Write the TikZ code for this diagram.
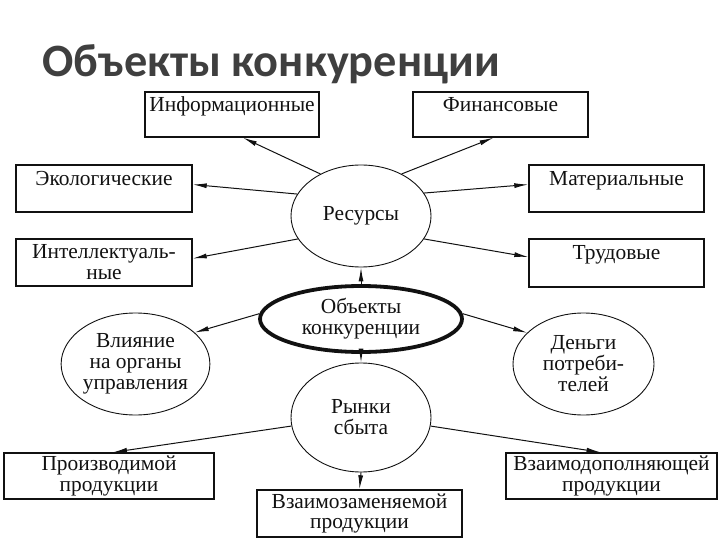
\documentclass[tikz,border=0pt]{standalone}
\usepackage{fontspec}
\setmainfont{Liberation Serif}
\newfontfamily\titlefont{Carlito}
\usetikzlibrary{arrows.meta,shapes.geometric}
\definecolor{ink}{HTML}{111111}
\definecolor{headGray}{HTML}{3F3F3F}
\newcommand{\labelsize}{\fontsize{21.5}{21}\selectfont}
\newcommand{\headsize}{\fontsize{46.5}{46.5}\selectfont}

\begin{document}
\begin{tikzpicture}[
    x=1bp, y=-1bp,
    >={Latex[length=14bp,width=5bp]},
    every node/.style={font=\labelsize, text=ink},
    kindbox/.style={
        rectangle, draw=ink, line width=1.4bp,
        align=center, inner sep=0pt,
        minimum width=175bp, minimum height=46bp,
    },
    topic/.style={
        ellipse, draw=ink, line width=0.9bp,
        align=center, inner sep=0pt,
        minimum width=140bp, minimum height=102bp,
    },
    core/.style={topic, line width=3.8bp, minimum width=202bp, minimum height=66bp},
    arr/.style={->, line width=1bp, draw=ink},
]

\useasboundingbox (0,0) rectangle (720,540);

% --- Heading ---
\node[font=\titlefont\bfseries\headsize, text=headGray, anchor=base west, inner sep=0pt]
  (head) at (42,77) {Объекты конкуренции};

% --- Centre and the four topics ---
\node[core] (obj) at (361,319) {Объекты\\конкуренции};
\node[topic] (res) at (361,216) {Ресурсы};
\node[topic, minimum width=137bp] (vli) at (135.5,364) {Влияние\\на органы\\управления};
\node[topic, minimum width=141bp] (den) at (583.5,364) {Деньги\\потреби-\\телей};
\node[topic, minimum height=109bp] (ryn) at (361,417.5) {Рынки\\сбыта};

% --- Kinds of resources ---
\node[kindbox, minimum width=174bp, minimum height=45bp] (info) at (232,114.5) {Информационные\\~};
\node[kindbox, minimum height=45bp] (fin) at (500.5,114.5) {Финансовые\\~};
\node[kindbox, minimum width=176bp, minimum height=47bp] (eco) at (104,188.5) {Экологические\\~};
\node[kindbox, minimum width=176bp, minimum height=47bp] (intel) at (104,262.5) {Интеллектуаль-\\ные};
\node[kindbox, minimum height=47bp] (mat) at (616.5,188.5) {Материальные\\~};
\node[kindbox, minimum height=48bp] (trud) at (616.5,263) {Трудовые\\~};

% --- Kinds of products ---
\node[kindbox, minimum width=210bp] (prod) at (109,476) {Производимой\\продукции};
\node[kindbox, minimum width=205bp, minimum height=47bp] (zam) at (359.5,513.5) {Взаимозаменяемой\\продукции};
\node[kindbox, minimum width=211bp] (dop) at (611.5,476) {Взаимодополняющей\\продукции};

% --- Centre -> topics ---
\draw[arr] (obj.north) -- (res.south);
\draw[arr] (obj.177)   -- (vli.28);
\draw[arr] (obj.3)     -- (den.151);
\draw[arr] (obj.south) -- (ryn.north);

% --- Resources -> boxes ---
\draw[arr] (res.134)  -- ([xshift=11bp]info.south);
\draw[arr] (res.46)   -- ([xshift=-7bp]fin.south);
\draw[arr] (res.161)  -- ([yshift=4bp]eco.east);
\draw[arr] (res.200)  -- ([yshift=4bp]intel.east);
\draw[arr] (res.20)   -- ([yshift=4bp]mat.west);
\draw[arr] (res.-20)  -- ([yshift=6bp]trud.west);

% --- Markets -> products ---
\draw[arr] (ryn.187)   -- ([xshift=4bp]prod.north);
\draw[arr] (ryn.south) -- (zam.north);
\draw[arr] (ryn.-7)    -- ([xshift=-11bp]dop.north);

\end{tikzpicture}
\end{document}
